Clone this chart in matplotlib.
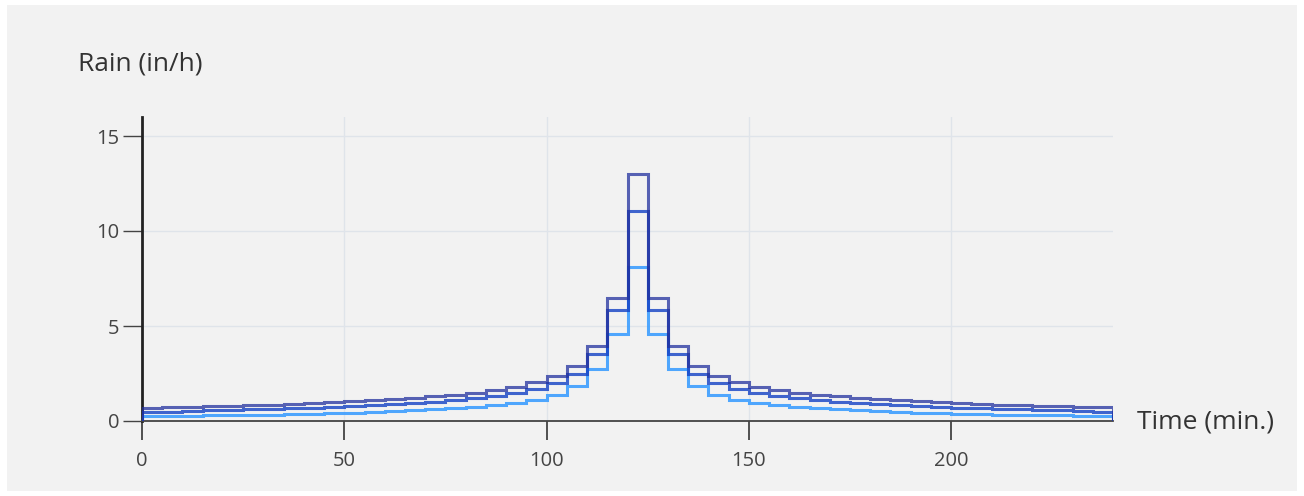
import matplotlib
matplotlib.use("Agg")
import matplotlib.pyplot as plt
from matplotlib.patches import Rectangle

plt.rcParams['font.family'] = ['Open Sans', 'DejaVu Sans']

# 5-minute time blocks (minutes)
time_edges = list(range(0, 245, 5))

# Rain intensity (in/h) per 5-minute block, three storms
rain_dark = [0.69, 0.72, 0.74, 0.77, 0.80, 0.83, 0.86, 0.90, 0.94, 0.99, 1.04, 1.09,
             1.15, 1.22, 1.30, 1.39, 1.50, 1.64, 1.80, 2.03, 2.35, 2.92, 3.95, 6.50,
             13.0,
             6.50, 3.95, 2.92, 2.35, 2.03, 1.80, 1.64, 1.50, 1.39, 1.30, 1.22, 1.15,
             1.09, 1.04, 0.99, 0.94, 0.90, 0.86, 0.83, 0.80, 0.77, 0.74, 0.72]
rain_medium = [0.47, 0.50, 0.53, 0.56, 0.59, 0.62, 0.65, 0.68, 0.71, 0.75, 0.79, 0.84,
               0.89, 0.95, 1.02, 1.10, 1.20, 1.32, 1.47, 1.68, 1.98, 2.49, 3.53, 5.86,
               11.07,
               5.86, 3.53, 2.49, 1.98, 1.68, 1.47, 1.32, 1.20, 1.10, 1.02, 0.95, 0.89,
               0.84, 0.79, 0.75, 0.71, 0.68, 0.65, 0.62, 0.59, 0.56, 0.53, 0.50]
rain_light = [0.25, 0.26, 0.27, 0.29, 0.30, 0.32, 0.34, 0.36, 0.39, 0.41, 0.44, 0.48,
              0.52, 0.56, 0.61, 0.67, 0.74, 0.83, 0.95, 1.12, 1.37, 1.84, 2.72, 4.60,
              8.10,
              4.60, 2.72, 1.84, 1.37, 1.12, 0.95, 0.83, 0.74, 0.67, 0.61, 0.56, 0.52,
              0.48, 0.44, 0.41, 0.39, 0.36, 0.34, 0.32, 0.30, 0.29, 0.27, 0.26]

x_ticks = [0, 50, 100, 150, 200]
y_ticks = [0, 5, 10, 15]

W, H = 1304, 496
fig = plt.figure(figsize=(W / 100, H / 100), dpi=100, facecolor='white')
fig.patches.append(Rectangle((7 / W, 5 / H), (1297 - 7) / W, (491 - 5) / H,
                             transform=fig.transFigure, facecolor='#f2f2f2',
                             edgecolor='none', zorder=-10))

ax = fig.add_axes([142 / W, 1 - 421 / H, (1113 - 142) / W, (421 - 117) / H])
ax.set_facecolor('none')

ax.stairs(rain_light, time_edges, baseline=0, color='#3d9eff', lw=2.2, alpha=0.9, zorder=3)
ax.stairs(rain_medium, time_edges, baseline=0, color='#1240c4', lw=2.2, alpha=0.8, zorder=4)
ax.stairs(rain_dark, time_edges, baseline=0, color='#22309e', lw=2.2, alpha=0.75, zorder=5)

ax.set_xlim(0, 240)
ax.set_ylim(0, 16)
ax.set_xticks(x_ticks)
ax.set_yticks(y_ticks)
ax.grid(True, color='#dfe4ea', lw=1.0, zorder=0)
ax.set_axisbelow(True)

for s in ['top', 'right']:
    ax.spines[s].set_visible(False)
ax.spines['left'].set_color('#222222')
ax.spines['left'].set_linewidth(2.0)
ax.spines['bottom'].set_color('#444444')
ax.spines['bottom'].set_linewidth(1.3)

ax.tick_params(axis='x', length=13.5, width=1.3, color='#444444', pad=8,
               labelsize=14.5, labelcolor='#444444')
ax.tick_params(axis='y', length=13.5, width=1.0, color='#444444', pad=3,
               labelsize=14.5, labelcolor='#444444')

fig.text(78 / W, 1 - 64 / H, 'Rain (in/h)', fontsize=19, color='#333333',
         ha='left', va='center')
fig.text(1137 / W, 1 - 422 / H, 'Time (min.)', fontsize=19, color='#333333',
         ha='left', va='center')

fig.savefig('out.png', dpi=100, facecolor=fig.get_facecolor())
